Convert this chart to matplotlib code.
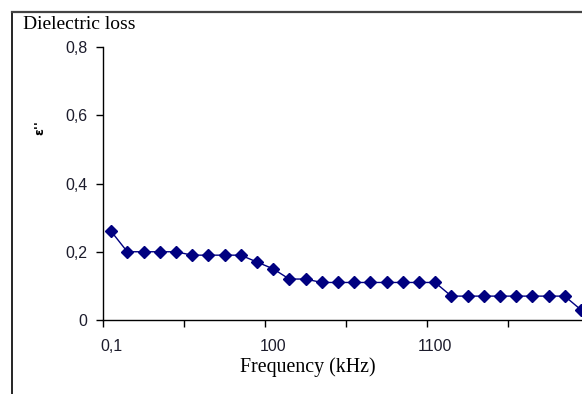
import matplotlib
matplotlib.use("Agg")
import matplotlib.pyplot as plt
from matplotlib.lines import Line2D

# Data
loss = [0.26, 0.20, 0.20, 0.20, 0.20, 0.19, 0.19, 0.19, 0.19, 0.17,
        0.15, 0.12, 0.12, 0.11, 0.11, 0.11, 0.11, 0.11, 0.11, 0.11,
        0.11, 0.07, 0.07, 0.07, 0.07, 0.07, 0.07, 0.07, 0.07, 0.03]
label_positions = [0, 10, 20]
label_texts = ["0,1", "100", "1100"]
yticks = [0, 0.2, 0.4, 0.6, 0.8]
ytick_labels = ["0", "0,2", "0,4", "0,6", "0,8"]

W, H = 582, 394
fig = plt.figure(figsize=(W / 100, H / 100), dpi=100)

left_px, right_px = 103, 103 + 30 * 16.2
top_px, bot_px = 47, 320
ax = fig.add_axes([left_px / W, 1 - bot_px / H, (right_px - left_px) / W, (bot_px - top_px) / H])

x = list(range(len(loss)))
ax.plot(x, loss, color="#000080", lw=1.0, marker="D", markersize=6,
        markerfacecolor="#000080", markeredgecolor="#000080", clip_on=False)

ax.set_xlim(-0.5, len(loss) - 0.5)
ax.set_ylim(0, 0.8)

for s in ["top", "right"]:
    ax.spines[s].set_visible(False)
for s in ["left", "bottom"]:
    ax.spines[s].set_linewidth(1.0)
    ax.spines[s].set_color("black")

tick_font = dict(fontname="Liberation Sans", fontsize=11.5, color="#1c1c2c")
ax.set_yticks(yticks)
ax.set_yticklabels(ytick_labels, **tick_font)
ax.tick_params(axis="y", direction="out", length=5, width=1, pad=6)

ax.set_xticks([i - 0.5 for i in range(0, len(loss) + 1, 5)])
ax.set_xticklabels([])
ax.tick_params(axis="x", which="major", direction="out", length=5, width=1)
ax.set_xticks(label_positions, minor=True)
ax.set_xticklabels(label_texts, minor=True, **tick_font)
ax.tick_params(axis="x", which="minor", length=0, pad=14)

fig.text(23 / W, 1 - 29 / H, "Dielectric loss", fontname="Liberation Serif", fontsize=14,
         ha="left", va="baseline", color="black")
fig.text(308 / W, 1 - 367 / H, "Frequency (kHz)", fontname="Liberation Serif", fontsize=14.3,
         ha="center", va="center", color="black")
fig.text(40 / W, 1 - 128 / H, "ε''", fontname="DejaVu Sans", fontsize=9, fontweight="bold",
         rotation=90, ha="center", va="center", color="black")

# outer frame
fig.add_artist(Line2D([12 / W, 12 / W], [1 - 12 / H, 0], transform=fig.transFigure, color="black", lw=1.2))
fig.add_artist(Line2D([12 / W, 1], [1 - 12 / H, 1 - 12 / H], transform=fig.transFigure, color="#444444", lw=1.6))

fig.savefig("out.png", dpi=100)
